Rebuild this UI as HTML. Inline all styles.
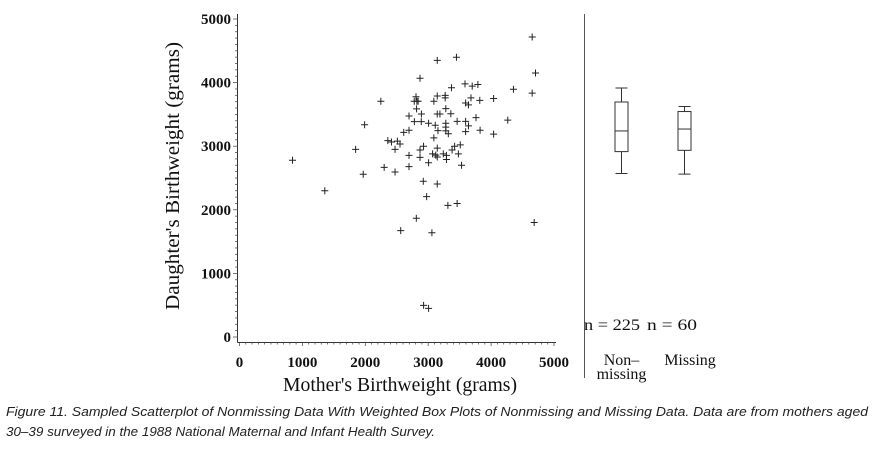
<!DOCTYPE html>
<html><head><meta charset="utf-8"><style>
body{margin:0;background:#fff;width:875px;height:447px;overflow:hidden}
svg text{font-family:"Liberation Serif",serif;fill:#111}
.cap{font-family:"Liberation Sans",sans-serif;font-style:italic;font-size:12.5px;fill:#222}
</style></head><body>
<svg id="chart" width="875" height="447" viewBox="0 0 875 447"></svg>
<script>
const motherBW=[843,1356,1846,1967,1989,2247,2300,2358,2416,2473,2473,2510,2552,2611,2695,2695,2695,2695,2563,2780,2778,2806,2820,2840,2815,2892,2890,2870,2870,2870,2926,2922,2975,2811,2927,3006,3006,3006,3059,3070,3090,3090,3112,3120,3144,3144,3144,3144,3144,3155,3144,3186,3240,3270,3270,3280,3280,3280,3280,3290,3290,3313,3320,3360,3370,3380,3420,3449,3460,3460,3480,3510,3530,3585,3595,3595,3595,3640,3640,3680,3700,3760,3790,3820,3825,4040,4040,4265,4355,4653,4653,4706,4685];
const daughterBW=[2780,2300,2950,2558,3338,3706,2668,3087,3066,2950,2594,3080,3035,3218,3250,3475,2855,2678,1672,3386,3706,3778,3706,3706,3586,3506,3386,4068,2940,2825,3000,2448,2208,1867,498,450,3360,2740,1640,2880,3130,3706,3330,2860,4350,3790,3506,2970,2830,3245,2405,3506,2880,3760,3800,3590,3360,3300,3240,2855,2790,2070,3195,3510,3920,2940,3000,4398,2100,3390,2880,3020,2700,3980,3680,3390,3230,3320,3650,3760,3945,3450,3970,3720,3250,3750,3190,3410,3895,4717,3835,4150,1800];
const xTicks=[0,1000,2000,3000,4000,5000];
const yTicks=[0,1000,2000,3000,4000,5000];
const groups=["Non\u2013|missing","Missing"];
const groupN=["n=225","n=60"];
const boxMin=[2570,2560];
const boxQ1=[2915,2935];
const boxMed=[3240,3270];
const boxQ3=[3695,3545];
const boxMax=[3915,3625];

const svg=document.getElementById('chart');
const NS='http://www.w3.org/2000/svg';
const xS=v=>239.5+v*0.0629;
const yS=v=>337-v*0.0636;
function mk(tag,attrs,txt){const e=document.createElementNS(NS,tag);for(const k in attrs)e.setAttribute(k,attrs[k]);if(txt!=null)e.textContent=txt;svg.appendChild(e);return e;}

let e;
e=mk('line',{x1:237.5,y1:14,x2:237.5,y2:342.5,stroke:'#333','stroke-width':1});


e=mk('line',{x1:237.5,y1:342.5,x2:556,y2:342.5,stroke:'#333','stroke-width':1});


for(let v=0;v<=5000;v+=100){
  const big=v%1000===0;
  e=mk('line',{x1:xS(v),y1:342.5,x2:xS(v),y2:big?346:344.5,stroke:'#555','stroke-width':0.8});
  
  
  e=mk('line',{x1:237.5,y1:yS(v),x2:big?233:235,y2:yS(v),stroke:'#555','stroke-width':0.8});
  
  
}
xTicks.forEach(v=>{
  e=mk('text',{x:xS(v),y:367,'text-anchor':'middle','font-size':15,'font-weight':'bold'},String(v));
  
  
});
yTicks.forEach(v=>{
  e=mk('text',{x:231,y:yS(v)+5,'text-anchor':'end','font-size':15,'font-weight':'bold'},String(v));
  
  
});
e=mk('text',{x:400,y:391,'text-anchor':'middle','font-size':19.5,textLength:234,lengthAdjust:'spacingAndGlyphs'},"Mother's Birthweight (grams)");


e=mk('text',{x:0,y:0,'text-anchor':'middle','font-size':20,textLength:268,lengthAdjust:'spacingAndGlyphs',transform:'translate(179,176) rotate(-90)'},"Daughter's Birthweight (grams)");



motherBW.forEach((m,i)=>{
  const cx=xS(m),cy=yS(daughterBW[i]);
  e=mk('path',{d:`M${cx-3.5},${cy}H${cx+3.5}M${cx},${cy-3.5}V${cy+3.5}`,stroke:'#222','stroke-width':1});
  
  
});

e=mk('line',{x1:584.5,y1:14,x2:584.5,y2:378,stroke:'#555','stroke-width':1});



const bx=[621.5,684.5],bw=[13,13];
const nx=[612,672];
groups.forEach((g,i)=>{
  const c=bx[i],w=bw[i]/2;
  e=mk('path',{d:`M${c-6},${yS(boxMax[i])}H${c+6}M${c},${yS(boxMax[i])}V${yS(boxQ3[i])}M${c},${yS(boxQ1[i])}V${yS(boxMin[i])}M${c-6},${yS(boxMin[i])}H${c+6}`,stroke:'#333',fill:'none','stroke-width':1});
  
  
  e=mk('rect',{x:c-w,y:yS(boxQ3[i]),width:bw[i],height:yS(boxQ1[i])-yS(boxQ3[i]),stroke:'#333',fill:'none','stroke-width':1});
  
  
  e=mk('line',{x1:c-w,y1:yS(boxMed[i]),x2:c+w,y2:yS(boxMed[i]),stroke:'#333','stroke-width':1});
  
  
  e=mk('text',{x:nx[i],y:330,'text-anchor':'middle','font-size':16,textLength:i?50:56,lengthAdjust:'spacingAndGlyphs'},groupN[i].replace('=',' = '));
  
  
  const parts=g.split('|');
  parts.forEach((p,j)=>{
    e=mk('text',{x:i?690:c,y:365+j*14,'text-anchor':'middle','font-size':16},p);
    
    
  });
});

e=mk('text',{x:6,y:416,class:'cap',textLength:862,lengthAdjust:'spacingAndGlyphs'},"Figure 11.  Sampled Scatterplot of Nonmissing Data With Weighted Box Plots of Nonmissing and Missing Data. Data are from mothers aged");


e=mk('text',{x:6,y:436,class:'cap',textLength:429,lengthAdjust:'spacingAndGlyphs'},"30\u201339 surveyed in the 1988 National Maternal and Infant Health Survey.");


</script>
</body></html>
